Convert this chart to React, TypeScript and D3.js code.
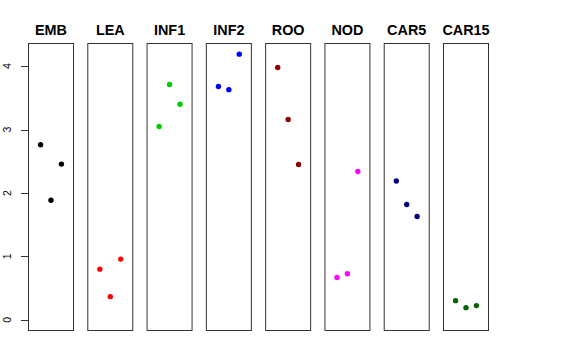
import { useEffect, useRef } from "react";
import * as d3 from "d3";

const groups = ["EMB", "LEA", "INF1", "INF2", "ROO", "NOD", "CAR5", "CAR15"];
const colors = ["#000000", "#FF0000", "#00CD00", "#0000FF", "#8B0000", "#FF00FF", "#000080", "#006400"];
const values = [
  [2.76, 1.885, 2.456],
  [0.8, 0.366, 0.958],
  [3.05, 3.71, 3.4],
  [3.68, 3.63, 4.19],
  [3.98, 3.16, 2.45],
  [0.67, 0.727, 2.34],
  [2.19, 1.82, 1.63],
  [0.303, 0.193, 0.225],
];
const yTicks = [0, 1, 2, 3, 4];

const width = 576;
const height = 360;

export default function App() {
  const svgRef = useRef<SVGSVGElement>(null);

  useEffect(() => {
    const svg = d3.select(svgRef.current);
    svg.selectAll("*").remove();

    const top = 43.5;
    const bottom = 330.5;

    const panel = d3
      .scaleBand<string>()
      .domain(groups)
      .range([28.5, 488.5])
      .paddingInner(0.241);

    // R style 4% padding on both axes
    const yMax = d3.max(values.flat()) as number;
    const pad = yMax * 0.04;
    const y = d3.scaleLinear().domain([-pad, yMax + pad]).range([bottom, top]);
    const x = d3.scaleLinear().domain([-0.16, 4.16]).range([0, panel.bandwidth()]);

    groups.forEach((g, i) => {
      const left = panel(g) as number;
      const p = svg.append("g").attr("transform", `translate(${left},0)`);

      p.append("rect")
        .attr("x", 0)
        .attr("y", top)
        .attr("width", panel.bandwidth())
        .attr("height", bottom - top)
        .attr("fill", "none")
        .attr("stroke", "#333")
        .attr("stroke-width", 1);

      p.append("text")
        .attr("x", panel.bandwidth() / 2)
        .attr("y", 34.5)
        .attr("text-anchor", "middle")
        .attr("font-family", "Liberation Sans, Arial, sans-serif")
        .attr("font-weight", "bold")
        .attr("font-size", 14.4)
        .text(g);

      p.selectAll("circle")
        .data(values[i])
        .enter()
        .append("circle")
        .attr("cx", (_d, j) => x(j + 1))
        .attr("cy", (d) => y(d))
        .attr("r", 2.7)
        .attr("fill", colors[i]);
    });

    // y axis on the first panel
    const axisX = panel(groups[0]) as number;
    const axis = svg.append("g").attr("transform", `translate(${axisX},0)`);
    axis
      .append("line")
      .attr("x1", 0)
      .attr("x2", 0)
      .attr("y1", y(0))
      .attr("y2", y(4))
      .attr("stroke", "#333");
    axis
      .selectAll(".tick")
      .data(yTicks)
      .enter()
      .append("line")
      .attr("x1", -7.5)
      .attr("x2", 0)
      .attr("y1", (d) => Math.round(y(d)) + 0.5)
      .attr("y2", (d) => Math.round(y(d)) + 0.5)
      .attr("stroke", "#333");
    axis
      .selectAll(".lab")
      .data(yTicks)
      .enter()
      .append("text")
      .attr("transform", (d) => `translate(-17.5,${y(d)}) rotate(-90)`)
      .attr("text-anchor", "middle")
      .attr("font-family", "Liberation Sans, Arial, sans-serif")
      .attr("font-size", 10.5)
      .text((d) => d);
  }, []);

  return (
    <svg
      ref={svgRef}
      width={width}
      height={height}
      style={{ position: "absolute", left: 0, top: 0, background: "#fff" }}
    />
  );
}
